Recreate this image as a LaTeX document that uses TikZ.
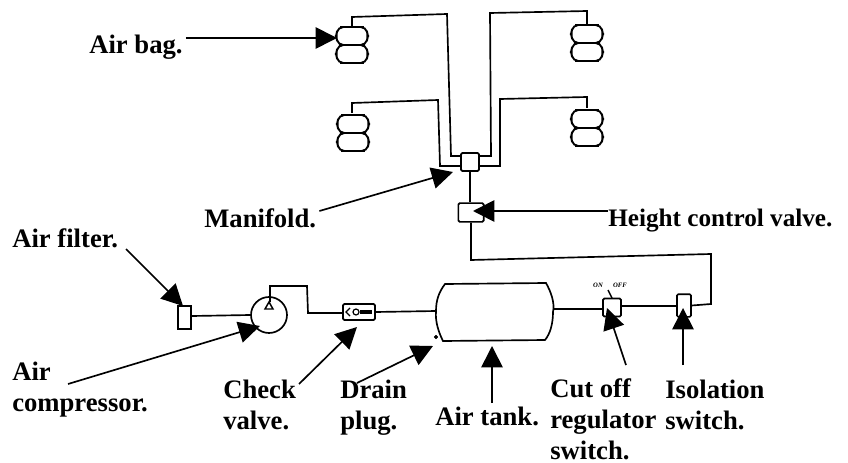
\documentclass[tikz,border=0pt]{standalone}
\usepackage{fontspec}
\setmainfont{Liberation Serif}
\usetikzlibrary{arrows.meta}
\tikzset{
	pipe/.style = {line width=1.25pt},
	unitbox/.style = {draw, line width=1.25pt, rounded corners=1pt, inner sep=0pt},
	pointer/.style = {line width=1.25pt, -{Triangle[length=16pt, width=16pt]}},
	lbl/.style = {font=\bfseries\fontsize{20pt}{23.25pt}\selectfont, align=left, anchor=north west, inner sep=0pt},
	bellow/.style = {line width=1.4pt, rounded corners=4pt},
	tiny/.style = {font=\bfseries\itshape\fontsize{5}{5}\selectfont, inner sep=0pt}
}
\newcommand{\airbag}[2]{
	\draw[bellow] (#1-14,#2+1) -- (#1+14,#2+1) -- (#1+16,#2+10) -- (#1+14,#2+19) -- (#1-14,#2+19) -- (#1-16,#2+10) -- cycle;
	\draw[bellow] (#1-14,#2+19) -- (#1+14,#2+19) -- (#1+16,#2+28) -- (#1+14,#2+37) -- (#1-14,#2+37) -- (#1-16,#2+28) -- cycle;
	\draw[line width=2.2pt] (#1-12,#2+1) -- (#1+12,#2+1) (#1-13,#2+19) -- (#1+13,#2+19) (#1-12,#2+37) -- (#1+12,#2+37);
}
\begin{document}
\begin{tikzpicture}[x=0.75pt, y=-0.75pt]
	\useasboundingbox (0,0) rectangle (848,463);
	% air bags
	\airbag{352}{26}
	\airbag{587}{24}
	\airbag{353}{114}
	\airbag{587}{109}
	\coordinate (bagA) at (352,26);
	\coordinate (bagB) at (587,24);
	\coordinate (bagC) at (352,113);
	\coordinate (bagD) at (587,108);
	% valves
	\node[unitbox, minimum width=13.5pt, minimum height=13.5pt] (manifold) at (470,162) {};
	\node[unitbox, minimum width=19pt, minimum height=14pt] (height) at (471,212.5) {};
	\node[unitbox, minimum width=10pt, minimum height=17pt, rounded corners=0pt] (filter) at (184.5,317.5) {};
	\node[draw, circle, line width=1.25pt, minimum size=27pt, inner sep=0pt] (compressor) at (269,315) {};
	\coordinate (compTop) at (270,302);
	\draw[line width=1.1pt] (265,309) -- (269,302) -- (273,309) -- cycle;
	\node[unitbox, minimum width=24pt, minimum height=12pt] (check) at (359,312) {};
	\draw[line width=.9pt] (350,308) -- (346,312) -- (350,316);
	\draw[line width=.9pt] (356,312) circle[radius=3];
	\fill (360,310) rectangle (372,314);
	\node[unitbox, minimum width=13.5pt, minimum height=13.5pt] (cutoff) at (612,307.5) {};
	\node[unitbox, minimum width=10.5pt, minimum height=17pt] (isolation) at (684,305.5) {};
	\draw[line width=1.1pt] (612,298) -- (608,290);
	\node[tiny] (on) at (598,285) {ON};
	\node[tiny] (off) at (620,285) {OFF};
	% air tank
	\draw[line width=1.25pt] (445,284) -- (546,283) .. controls (551,292) and (555,303) .. (553,312) .. controls (553,324) and (550,334) .. (545,340) -- (443,341) .. controls (439,333) and (435,322) .. (436,311) .. controls (436,300) and (439,292) .. (445,284) -- cycle;
	\coordinate (tankL) at (436,311);
	\coordinate (tankR) at (553,309);
	\draw[fill] (436,337) circle[radius=1.8];
	% pipes
	\draw[pipe] (bagA) -- (352,17) -- (447,14) -- (451,156) -- (461,156);
	\draw[pipe] (bagB) -- (587,11) -- (490,13) -- (491,156) -- (479,156);
	\draw[pipe] (bagC) -- (352,103) -- (438,100) -- (440,166) -- (461,166);
	\draw[pipe] (bagD) -- (587,97) -- (500,99) -- (500,166) -- (479,166);
	\draw[pipe] (manifold.south) -- (height.north -| manifold.south);
	\draw[pipe] (height.south) -- (471,260) -- (711,254) -- (711,304) -- (isolation.east);
	\draw[pipe] (filter.east |- 0,316) -- (compressor.west);
	\draw[pipe] (compTop) -- (270,286) -- (307,286) -- (308,313) -- (check.west |- 0,313);
	\draw[pipe] (check.east |- 0,312) -- (tankL);
	\draw[pipe] (tankR) -- (cutoff.west |- 0,309);
	\draw[pipe] (cutoff.east |- 0,306) -- (isolation.west |- 0,306);
	% labels
	\node[lbl] (lblBag) at (89,35) {Air bag.};
	\node[lbl] (lblManifold) at (204,208) {Manifold.};
	\node[lbl, font=\bfseries\fontsize{18.9pt}{23.25pt}\selectfont] (lblHeight) at (608,209) {Height control valve.};
	\node[lbl] (lblFilter) at (12,228) {Air filter.};
	\node[lbl] (lblComp) at (12,362) {Air\\compressor.};
	\node[lbl] (lblCheck) at (223,380) {Check\\valve.};
	\node[lbl] (lblDrain) at (340,380) {Drain\\plug.};
	\node[lbl] (lblTank) at (435,407) {Air tank.};
	\node[lbl] (lblCut) at (550,378) {Cut off\\regulator\\switch.};
	\node[lbl] (lblIso) at (665,380) {Isolation\\switch.};
	% pointers
	\draw[pointer] (lblBag.north east) ++(3,3) -- (337,38);
	\draw[pointer] (lblManifold.north east) ++(3,3) -- (453,172);
	\draw[pointer] (lblHeight.north west) ++(0,2) -- (473,211);
	\draw[pointer] (126,249) -- (183,306);
	\draw[pointer] (68,384) -- (260,326);
	\draw[pointer] (299,384) -- (357,327);
	\draw[pointer] (357,383) -- (433,346);
	\draw[pointer] (492,403) -- (492,346);
	\draw[pointer] (626,365) -- (607,308);
	\draw[pointer] (683,365) -- (683,308);
\end{tikzpicture}
\end{document}
